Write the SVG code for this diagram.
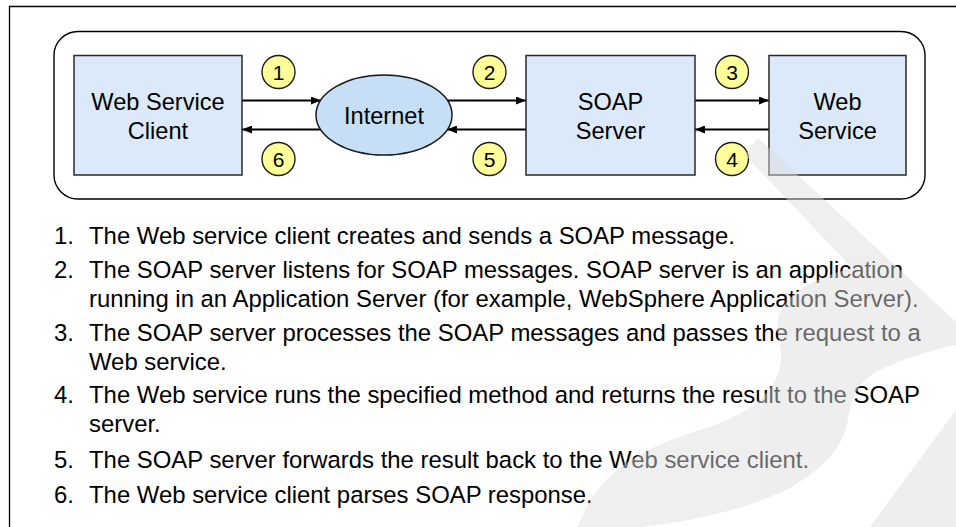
<svg xmlns="http://www.w3.org/2000/svg" width="956" height="527" viewBox="0 0 956 527">
  <style>
    .txt { font-family: "Liberation Sans", Arial, Helvetica, sans-serif; fill: #000; }
    .node { fill: #dbe9fb; stroke: #2a2a2a; stroke-width: 1.5; }
    .cloud { fill: #c6dff7; stroke: #1a1a1a; stroke-width: 1.5; }
    .label { font-size: 23.6px; text-anchor: middle; }
    .step { fill: #ffff99; stroke: #1a1a1a; stroke-width: 1.4; }
    .stepnum { font-size: 21px; text-anchor: middle; }
    .flow { stroke: #000; stroke-width: 1.9; fill: none; marker-end: url(#arrow); }
    .item { font-size: 23.9px; }
  </style>
  <defs>
    <marker id="arrow" markerUnits="userSpaceOnUse" markerWidth="10" markerHeight="8" refX="10" refY="4" orient="auto">
      <path d="M0,0 L10,4 L0,8 z" fill="#000"/>
    </marker>
  </defs>

  <rect width="956" height="527" fill="#fff"/>

  <!-- page frame -->
  <path d="M9.5 527 V6.5 H956" fill="none" stroke="#000" stroke-width="1.3"/>

  <!-- rounded panel around the flow -->
  <rect id="panel" x="54" y="31.5" width="871" height="167.5" rx="24" ry="24" fill="none" stroke="#000" stroke-width="1.4"/>

  <!-- connectors -->
  <g id="connectors">
    <line class="flow" x1="242" y1="100.5" x2="321" y2="100.5"/>
    <line class="flow" x1="321" y1="129.5" x2="242" y2="129.5"/>
    <line class="flow" x1="447" y1="100.5" x2="526" y2="100.5"/>
    <line class="flow" x1="526" y1="129.5" x2="447" y2="129.5"/>
    <line class="flow" x1="695" y1="100.5" x2="769" y2="100.5"/>
    <line class="flow" x1="769" y1="129.5" x2="695" y2="129.5"/>
  </g>

  <!-- nodes -->
  <g id="web-service-client">
    <rect class="node" x="74" y="55.5" width="168" height="119.5"/>
    <text class="txt label" x="158" y="109.5">Web Service</text>
    <text class="txt label" x="158" y="138.5">Client</text>
  </g>

  <g id="internet">
    <ellipse class="cloud" cx="384" cy="115" rx="68" ry="40"/>
    <text class="txt label" x="384" y="123.5">Internet</text>
  </g>

  <g id="soap-server">
    <rect class="node" x="526" y="55.5" width="169" height="119.5"/>
    <text class="txt label" x="610.5" y="109.5">SOAP</text>
    <text class="txt label" x="610.5" y="138.5">Server</text>
  </g>

  <g id="web-service">
    <rect class="node" x="769" y="55.5" width="137" height="119.5"/>
    <text class="txt label" x="837.5" y="109.5">Web</text>
    <text class="txt label" x="837.5" y="138.5">Service</text>
  </g>

  <!-- step markers -->
  <g id="step-1"><circle class="step" cx="278.5" cy="72" r="16.5"/><text class="txt stepnum" x="278.5" y="79.5">1</text></g>
  <g id="step-2"><circle class="step" cx="489.5" cy="72" r="16.5"/><text class="txt stepnum" x="489.5" y="79.5">2</text></g>
  <g id="step-3"><circle class="step" cx="732" cy="72" r="16.5"/><text class="txt stepnum" x="732" y="79.5">3</text></g>
  <g id="step-4"><circle class="step" cx="732" cy="159" r="16.5"/><text class="txt stepnum" x="732" y="166.5">4</text></g>
  <g id="step-5"><circle class="step" cx="489.5" cy="159" r="16.5"/><text class="txt stepnum" x="489.5" y="166.5">5</text></g>
  <g id="step-6"><circle class="step" cx="278.5" cy="159" r="16.5"/><text class="txt stepnum" x="278.5" y="166.5">6</text></g>

  <!-- numbered description -->
  <g id="steps-list" class="txt item">
    <text x="54" y="244">1.</text>
    <text x="89" y="244">The Web service client creates and sends a SOAP message.</text>
    <text x="54" y="278">2.</text>
    <text x="89" y="278">The SOAP server listens for SOAP messages. SOAP server is an application</text>
    <text x="89" y="307">running in an Application Server (for example, WebSphere Application Server).</text>
    <text x="54" y="341">3.</text>
    <text x="89" y="341">The SOAP server processes the SOAP messages and passes the request to a</text>
    <text x="89" y="369.5">Web service.</text>
    <text x="54" y="403">4.</text>
    <text x="89" y="403">The Web service runs the specified method and returns the result to the SOAP</text>
    <text x="89" y="431.5">server.</text>
    <text x="54" y="467.5">5.</text>
    <text x="89" y="467.5">The SOAP server forwards the result back to the Web service client.</text>
    <text x="54" y="502.5">6.</text>
    <text x="89" y="502.5">The Web service client parses SOAP response.</text>
  </g>

  <!-- faint translucent swoosh laid over the lower right -->
  <g id="swoosh" opacity="0.47" fill="#dcdcdc" stroke="none">
    <path d="M758 138 L956 322 L956 345 C930 350 900 360 876 372 C860 381 851 395 847 425 C840 452 820 470 790 488 C750 508 700 520 642 527 L578 527 C595 478 634 450 700 430 C760 412 792 380 778 336 C772 302 802 282 852 268 L745 155 Z"/>
    <path d="M870 527 L956 410 L956 527 Z"/>
  </g>
</svg>
